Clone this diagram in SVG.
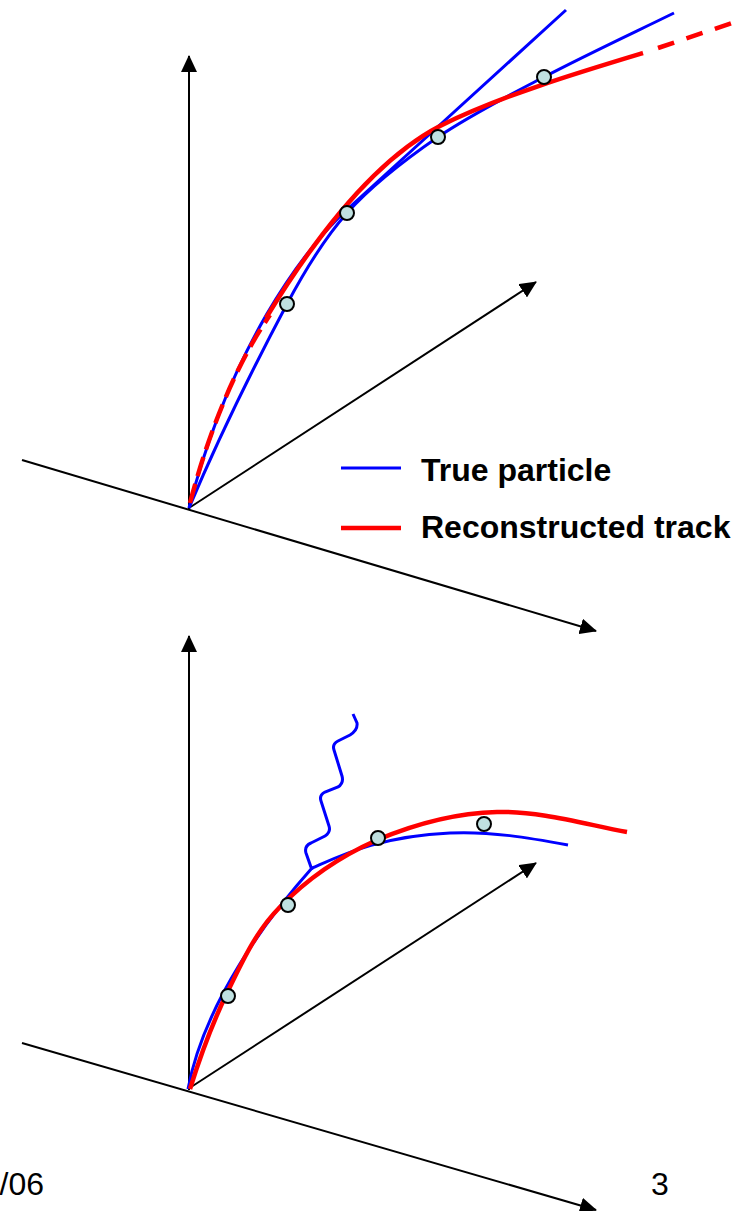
<svg xmlns="http://www.w3.org/2000/svg" width="740" height="1211" viewBox="0 0 740 1211">
<style>
.axis{stroke:#000;stroke-width:2;fill:none}
.blue{stroke:#0000ff;stroke-width:3;fill:none;stroke-linecap:butt}
.red{stroke:#ff0000;stroke-width:4.5;fill:none}
.dash{stroke-dasharray:20 8}
.dash2{stroke-dasharray:17 13}
.hit{fill:#bfe0e0;stroke:#000;stroke-width:2}
.lbl{font-family:"Liberation Sans",Arial,sans-serif;font-size:32px;font-weight:bold;fill:#000}
.foot{font-family:"Liberation Sans",Arial,sans-serif;font-size:32px;fill:#000}
</style>
<defs>
<marker id="arr" markerUnits="userSpaceOnUse" markerWidth="18" markerHeight="16" refX="16" refY="8" orient="auto">
<path d="M0,0 L17,8 L0,16 z" fill="#000"/>
</marker>
</defs>
<g id="connectors">
<line class="axis" x1="189" y1="510" x2="189" y2="56" marker-end="url(#arr)"/>
<line class="axis" x1="22" y1="460" x2="596" y2="631" marker-end="url(#arr)"/>
<line class="axis" x1="189" y1="508" x2="536" y2="282" marker-end="url(#arr)"/>
<line class="axis" x1="189" y1="1090" x2="189" y2="636" marker-end="url(#arr)"/>
<line class="axis" x1="22" y1="1043" x2="596" y2="1210" marker-end="url(#arr)"/>
<line class="axis" x1="188" y1="1089" x2="536" y2="863" marker-end="url(#arr)"/>
</g>
<g id="top-tracks">
<path class="blue" d="M189,508 C218,439 252,370 287,304 C304,272 323,240 347,213 C373,184 406,159 438,137 C472,114 508,96 544,77 C586,55 631,34 674,13"/>
<path class="blue" d="M566,10 L352,205 C300,252 230,350 189,508"/>
<path class="red dash" d="M190,503 C200,465 225,380 270,315"/>
<path class="red" d="M266,318 C300,262 365,165 440,126 C500,96 580,72 643,53"/>
<path class="red dash2" d="M658,48 L735,22"/>
</g>
<g id="top-hits">
<circle class="hit" cx="287" cy="304" r="7"/>
<circle class="hit" cx="347" cy="213" r="7"/>
<circle class="hit" cx="438" cy="137" r="7"/>
<circle class="hit" cx="544" cy="77" r="7"/>
</g>
<g id="legend">
<line x1="341" y1="468" x2="401" y2="468" stroke="#0000ff" stroke-width="3"/>
<text class="lbl" x="421" y="481">True particle</text>
<line x1="341" y1="528" x2="401" y2="528" stroke="#ff0000" stroke-width="4.5"/>
<text class="lbl" x="421" y="538">Reconstructed track</text>
</g>
<g id="bottom-tracks">
<path class="blue" d="M188,1089 C198,1035 232,958 312,868 C340,856 380,836 450,833 C490,831 530,838 568,845"/>
<path class="blue" d="M312,870 L306,853 Q304,846 311,843 L325,836 Q331,832 329,826 L321,801 Q319,795 325,792 L338,787 Q344,783 342,776 L334,750 Q332,744 338,741 L350,735 Q358,730 357,723 L353,714"/>
<path class="red" d="M190,1089 C200,1057 212,1024 227,993 C242,962 256,931 280,907 C307,879 341,856 377,840 C415,824 456,813 497,812 C541,811 584,824 627,832"/>
</g>
<g id="bottom-hits">
<circle class="hit" cx="228" cy="996" r="7"/>
<circle class="hit" cx="288" cy="905" r="7"/>
<circle class="hit" cx="378" cy="838" r="7"/>
<circle class="hit" cx="484" cy="824" r="7"/>
</g>
<g id="footer">
<text class="foot" x="44" y="1195" text-anchor="end">/06</text>
<text class="foot" x="651" y="1195">3</text>
</g>
</svg>
